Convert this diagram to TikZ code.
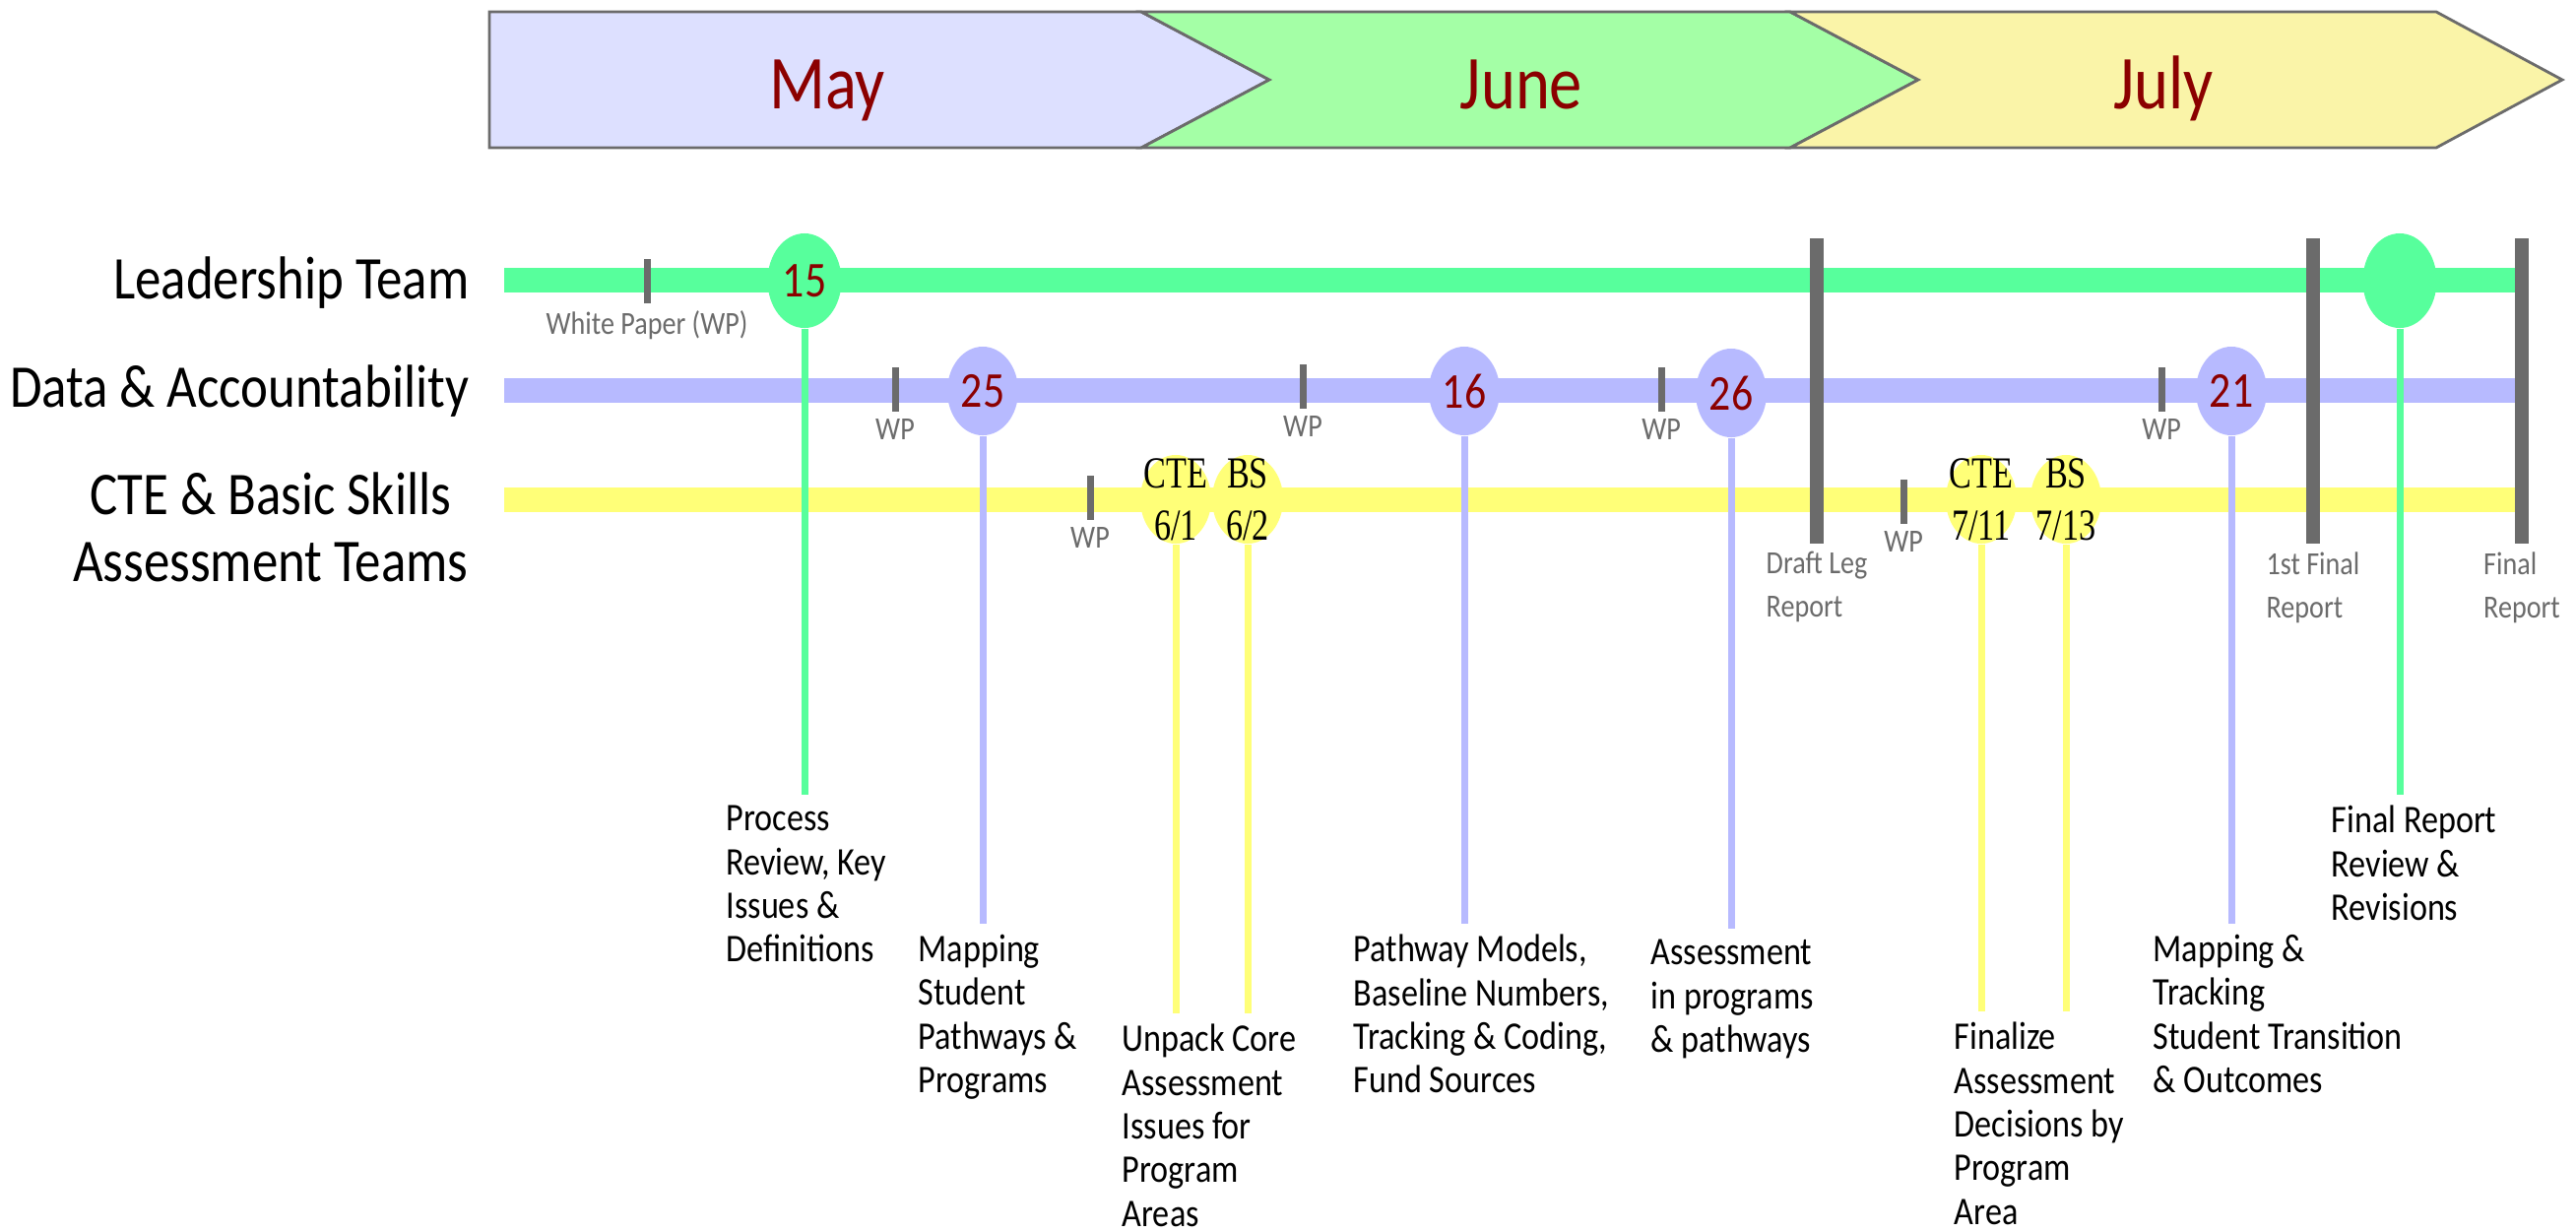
\documentclass[tikz,border=0pt]{standalone}
\usepackage{fontspec}
\setmainfont{Carlito}[FakeStretch=0.86]
\newfontfamily\datefont{Liberation Serif}[FakeStretch=0.76]
\usetikzlibrary{positioning, shapes.geometric}
\definecolor{cmay}{HTML}{DDE0FF}
\definecolor{cjune}{HTML}{A4FFA6}
\definecolor{cjuly}{HTML}{FAF4A8}
\definecolor{clead}{HTML}{57FF9C}
\definecolor{cdata}{HTML}{B7BAFF}
\definecolor{cteam}{HTML}{FFFF78}
\definecolor{cgrey}{HTML}{6B6B6B}
\definecolor{cred}{HTML}{8B0000}
\tikzset{
  month/.style={fill=#1, draw=cgrey, line width=0.8pt},
  monthname/.style={font=\fontsize{22}{26}\selectfont, text=cred, anchor=base},
  lane/.style={font=\fontsize{17.5}{19.4}\selectfont, inner sep=0pt},
  lanebar/.style={draw=#1, line width=0.25cm},
  meet/.style={ellipse, fill=#1, minimum width=0.72cm, minimum height=0.9cm, inner sep=0pt, text=cred, font=\fontsize{14.5}{17}\selectfont},
  stem/.style={draw=#1, line width=0.07cm},
  wptick/.style={fill=cgrey, minimum width=0.07cm, minimum height=0.45cm, inner sep=0pt},
  wplabel/.style={text=cgrey, font=\fontsize{9.3}{12.5}\selectfont, inner sep=2pt, align=left},
  milestone/.style={fill=cgrey, minimum width=0.14cm, minimum height=3.1cm, inner sep=0pt},
  datetext/.style={font=\datefont\fontsize{12.8}{15}\selectfont, align=center, inner sep=0pt, text=black},
  task/.style={anchor=north west, align=left, inner xsep=0pt, inner ysep=3pt, font=\fontsize{11.3}{12.6}\selectfont},
}

\begin{document}
\begin{tikzpicture}[x=0.01cm, y=-0.01cm]
  \useasboundingbox (0,0) rectangle (2616,1250);

  % months
  \filldraw[month=cmay] (497,12) -- (1159,12) -- (1289,81) -- (1159,150) -- (497,150) -- cycle;
  \filldraw[month=cjune] (1159,12) -- (1818,12) -- (1948,81) -- (1818,150) -- (1159,150) -- (1289,81) -- cycle;
  \filldraw[month=cjuly] (1818,12) -- (2474,12) -- (2602,81) -- (2474,150) -- (1818,150) -- (1948,81) -- cycle;
  \node[monthname] (may) at (840,110) {May};
  \node[monthname] (june) at (1545,110) {June};
  \node[monthname] (july) at (2197,110) {July};

  % lanes
  \node[lane, anchor=base east] (lead) at (477,303) {Leadership Team};
  \node[lane, anchor=base east] (data) at (477,413) {Data \& Accountability};
  \node[lane, align=center, anchor=east] (team) at (476,535) {CTE \& Basic Skills\\Assessment Teams};
  \coordinate (leadS) at (512,284);  \coordinate (leadE) at (2555,284);
  \coordinate (dataS) at (512,396);  \coordinate (dataE) at (2555,396);
  \coordinate (teamS) at (512,507);  \coordinate (teamE) at (2555,507);
  \draw[lanebar=clead] (leadS) -- (leadE);
  \draw[lanebar=cdata] (dataS) -- (dataE);
  \draw[lanebar=cteam] (teamS) -- (teamE);

  % white papers
  \node[wptick] (wp1) at (657,285) {};
  \node[wplabel, below=0pt of wp1] (wp1l) {White Paper (WP)};
  \node[wptick] (wp2) at (909,395) {};
  \node[wplabel, below=0pt of wp2] (wp2l) {WP};
  \node[wptick] (wp3) at (1323,392) {};
  \node[wplabel, below=0pt of wp3] (wp3l) {WP};
  \node[wptick] (wp4) at (1687,395) {};
  \node[wplabel, below=0pt of wp4] (wp4l) {WP};
  \node[wptick] (wp5) at (2195,395) {};
  \node[wplabel, below=0pt of wp5] (wp5l) {WP};
  \node[wptick] (wp6) at (1107,505) {};
  \node[wplabel, below=0pt of wp6] (wp6l) {WP};
  \node[wptick] (wp7) at (1933,509) {};
  \node[wplabel, below=0pt of wp7] (wp7l) {WP};

  % meetings
  \node[meet=clead, minimum width=0.75cm, minimum height=0.96cm] (m15) at (817,285) {15};
  \node[meet=clead, minimum width=0.75cm, minimum height=0.96cm] (mfin) at (2437,285) {};
  \node[meet=cdata] (m25) at (998,397) {25};
  \node[meet=cdata] (m16) at (1487,397) {16};
  \node[meet=cdata] (m26) at (1758,399) {26};
  \node[meet=cdata] (m21) at (2266,397) {21};
  \node[meet=cteam, label={[datetext]center:{CTE\\6/1}}] (cte1) at (1194,507) {};
  \node[meet=cteam, label={[datetext]center:{BS\\6/2}}] (bs1) at (1267,507) {};
  \node[meet=cteam, label={[datetext]center:{CTE\\7/11}}] (cte2) at (2012,507) {};
  \node[meet=cteam, label={[datetext]center:{BS\\7/13}}] (bs2) at (2098,507) {};

  % reports
  \node[milestone] (draft) at (1845,397) {};
  \node[wplabel, below=0pt of draft] (draftl) {Draft Leg\\Report};
  \node[milestone] (first) at (2349,397) {};
  \node[wplabel, below=0pt of first] (firstl) {1st Final\\Report};
  \node[milestone] (final) at (2561,397) {};
  \node[wplabel, below=0pt of final] (finall) {Final\\Report};

  % tasks
  \node[task] (t15) at (737,807) {Process\\Review, Key\\Issues \&\\Definitions};
  \node[task] (t25) at (932,938) {Mapping\\Student\\Pathways \&\\Programs};
  \node[task] (tcte1) at (1139,1029) {Unpack Core\\Assessment\\Issues for\\Program\\Areas};
  \node[task] (t16) at (1374,938) {Pathway Models,\\Baseline Numbers,\\Tracking \& Coding,\\Fund Sources};
  \node[task] (t26) at (1676,943) {Assessment\\in programs\\\& pathways};
  \node[task] (tcte2) at (1984,1027) {Finalize\\Assessment\\Decisions by\\Program\\Area};
  \node[task] (t21) at (2186,938) {Mapping \&\\Tracking\\Student Transition\\\& Outcomes};
  \node[task] (tfin) at (2367,807) {Final Report\\Review \&\\Revisions};

  \draw[stem=clead] (m15.south) -- (m15 |- t15.north);
  \draw[stem=clead] (mfin.south) -- (mfin |- tfin.north);
  \draw[stem=cdata] (m25.south) -- (m25 |- t25.north);
  \draw[stem=cdata] (m16.south) -- (m16 |- t16.north);
  \draw[stem=cdata] (m26.south) -- (m26 |- t26.north);
  \draw[stem=cdata] (m21.south) -- (m21 |- t21.north);
  \draw[stem=cteam] (cte1.south) -- (cte1 |- tcte1.north);
  \draw[stem=cteam] (bs1.south) -- (bs1 |- tcte1.north);
  \draw[stem=cteam] (cte2.south) -- (cte2 |- tcte2.north);
  \draw[stem=cteam] (bs2.south) -- (bs2 |- tcte2.north);
\end{tikzpicture}
\end{document}
